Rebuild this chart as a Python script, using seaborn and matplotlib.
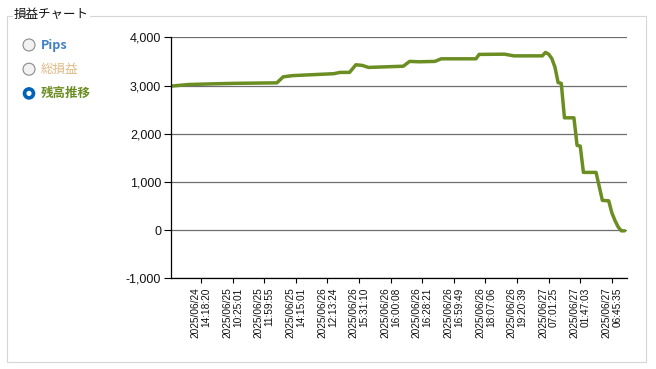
import matplotlib
matplotlib.use("Agg")
import matplotlib.pyplot as plt
import matplotlib.patches as mpatches
from matplotlib.ticker import FuncFormatter
import seaborn as sns
import pandas as pd

# balance history (trade number -> account balance)
trade_no = [0, 5, 13, 20, 33, 35, 38, 51, 53, 56, 58, 60, 62, 73, 75, 78, 83, 85, 96, 97,
            105, 108, 117, 118, 119, 120, 121, 122, 123, 124, 127, 128, 129, 130, 134, 136,
            138, 139, 140, 141, 142, 143]
balance = [2990, 3020, 3035, 3045, 3055, 3180, 3205, 3245, 3272, 3272, 3430, 3417, 3375, 3400,
           3500, 3492, 3500, 3554, 3554, 3645, 3650, 3615, 3615, 3687, 3650, 3560, 3380, 3060,
           3044, 2330, 2330, 1757, 1743, 1197, 1197, 616, 608, 360, 197, 65, -15, -15]

tick_trades = [9, 19, 29, 39, 49, 59, 69, 79, 89, 99, 109, 119, 129, 139]
tick_labels = [
    "2025/06/24\n14:18:20", "2025/06/25\n10:25:01", "2025/06/25\n11:59:55",
    "2025/06/25\n14:15:01", "2025/06/26\n12:13:24", "2025/06/26\n15:31:10",
    "2025/06/26\n16:00:08", "2025/06/26\n16:28:21", "2025/06/26\n16:59:49",
    "2025/06/26\n18:07:06", "2025/06/26\n19:20:39", "2025/06/27\n07:01:25",
    "2025/06/27\n01:47:03", "2025/06/27\n06:45:35",
]
y_ticks = [-1000, 0, 1000, 2000, 3000, 4000]

radio_labels = ["Pips", "総損益", "残高推移"]
radio_colors = ["#3F7FC4", "#DEBB86", "#6B8E23"]
radio_bold = [True, False, True]
selected = 2

sns.set_style("white")
plt.rcParams["font.family"] = ["Liberation Sans", "Noto Sans CJK JP", "DejaVu Sans"]

W, H = 656, 369
fig = plt.figure(figsize=(W / 100, H / 100), dpi=100)

# group box frame, title and radio buttons
bg = fig.add_axes([0, 0, 1, 1], zorder=-1)
bg.set_xlim(0, W)
bg.set_ylim(H, 0)
bg.axis("off")
bg.add_patch(mpatches.Rectangle((6.5, 15.5), 639.5, 346.5, fill=False, ec="#D6D6D6", lw=0.8))
bg.text(14, 14.5, "損益チャート", fontsize=9, va="center", ha="left", color="#111111",
        family=["Noto Sans CJK JP", "DejaVu Sans"],
        bbox=dict(fc="white", ec="none", pad=1))
for i, (lab, col, bold) in enumerate(zip(radio_labels, radio_colors, radio_bold)):
    cy = 45 + i * 24.2
    if i == selected:
        bg.add_patch(mpatches.Circle((29, cy), 6.3, fc="#0062B8", ec="none"))
        bg.add_patch(mpatches.Circle((29, cy), 2.6, fc="white", ec="none"))
    else:
        bg.add_patch(mpatches.Circle((29, cy), 6.0, fc="#F2F2F2", ec="#8A8A8A", lw=0.8))
    bg.text(41, cy, lab, fontsize=9, color=col, va="center", ha="left",
            fontweight="bold" if bold else "normal",
            family=["Noto Sans CJK JP", "DejaVu Sans"])

# main chart
ax = fig.add_axes([171 / W, 1 - 278.3 / H, (626.7 - 171) / W, (278.3 - 37.3) / H])
df = pd.DataFrame({"trade": trade_no, "balance": balance})
sns.lineplot(data=df, x="trade", y="balance", ax=ax, color="#6B8E23", linewidth=2.5)

ax.set_xlim(-0.5, 143.7)
ax.set_ylim(-1000, 4000)
ax.set_yticks(y_ticks)
ax.yaxis.set_major_formatter(FuncFormatter(lambda v, p: f"{v:,.0f}"))
ax.set_xticks(tick_trades)
ax.set_xticklabels(tick_labels, rotation=90, ha="center", va="top",
                   multialignment="right", linespacing=1.1, fontsize=7.3)
ax.set_xlabel("")
ax.set_ylabel("")
ax.yaxis.grid(True, color="#6E6E6E", lw=0.9)
ax.xaxis.grid(False)
for side in ["top", "right"]:
    ax.spines[side].set_visible(False)
for side in ["left", "bottom"]:
    ax.spines[side].set_color("black")
    ax.spines[side].set_linewidth(0.9)
ax.tick_params(axis="y", length=5, width=0.8, color="black", labelsize=9, pad=2,
               labelcolor="#111111", left=True)
ax.tick_params(axis="x", length=3.5, width=0.8, color="black", pad=3,
               labelcolor="#111111", bottom=True)

fig.savefig("out.png", dpi=100)
